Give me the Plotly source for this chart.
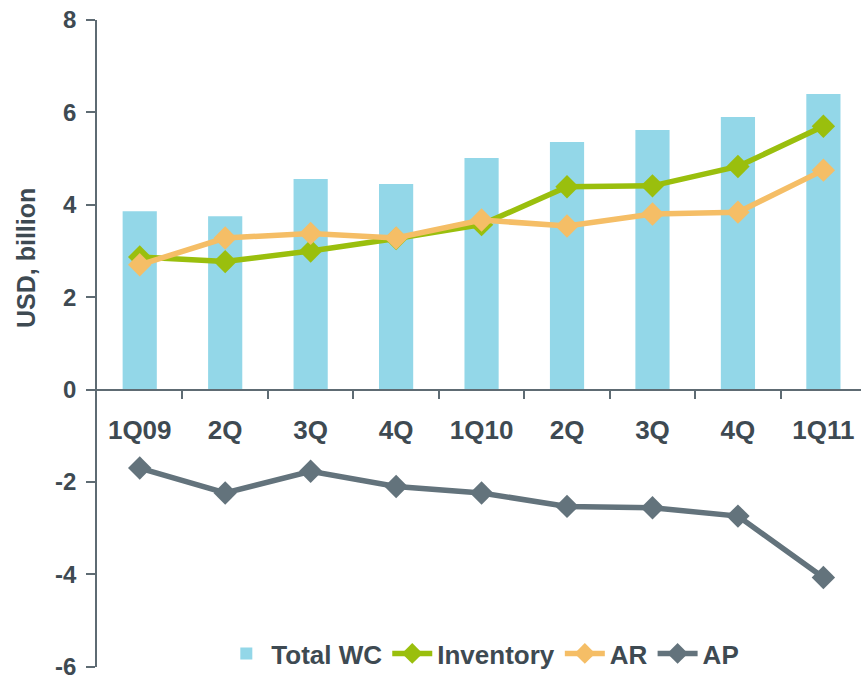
import plotly.graph_objects as go

# Quarterly working-capital components, USD billion
quarter_labels = ["1Q09", "2Q", "3Q", "4Q", "1Q10", "2Q", "3Q", "4Q", "1Q11"]
total_wc = [3.86, 3.75, 4.56, 4.45, 5.01, 5.36, 5.62, 5.90, 6.40]
inventory = [2.87, 2.77, 3.00, 3.27, 3.57, 4.39, 4.41, 4.83, 5.70]
ar = [2.70, 3.28, 3.38, 3.28, 3.67, 3.54, 3.80, 3.84, 4.75]
ap = [-1.70, -2.24, -1.77, -2.10, -2.24, -2.53, -2.56, -2.74, -4.07]

# y-axis ticks, written with a plain hyphen for the negatives
y_ticks = [-6, -4, -2, 0, 2, 4, 6, 8]
y_tick_labels = ["-6", "-4", "-2", "0", "2", "4", "6", "8"]
y_min, y_max = -6, 8

x = list(range(len(quarter_labels)))

TEXT = "#3E4A52"
AXIS = "#5E6B73"
FONT = "Liberation Sans, Arial, sans-serif"

W, H = 861, 677
M_L, M_R, M_T, M_B = 97, 0, 20, 0
paper_h = H - M_T - M_B
paper_w = W - M_L - M_R
# leave a 10 px strip under the y-axis for the legend to hang into
y_dom0 = 10.3 / paper_h
zero_pos = y_dom0 + (0 - y_min) / (y_max - y_min) * (1 - y_dom0)

fig = go.Figure()
fig.add_trace(go.Bar(x=x, y=total_wc, name="Total WC", marker_color="#93D7E8",
                     marker_line_width=0, width=0.4))
fig.add_trace(go.Scatter(x=x, y=inventory, name="Inventory", mode="lines+markers",
                         line=dict(color="#9ABF0D", width=5.5),
                         marker=dict(symbol="diamond", size=18, color="#9ABF0D")))
fig.add_trace(go.Scatter(x=x, y=ar, name="AR", mode="lines+markers",
                         line=dict(color="#F5BE66", width=5.5),
                         marker=dict(symbol="diamond", size=18, color="#F5BE66")))
fig.add_trace(go.Scatter(x=x, y=ap, name="AP", mode="lines+markers",
                         line=dict(color="#63737C", width=5.5),
                         marker=dict(symbol="diamond", size=18, color="#63737C")))

fig.update_layout(
    width=W, height=H,
    margin=dict(l=M_L, r=M_R, t=M_T, b=M_B),
    plot_bgcolor="white", paper_bgcolor="white",
    font=dict(family=FONT, color=TEXT, size=26, weight="bold"),
    showlegend=True,
    legend=dict(orientation="h", xref="paper", x=0.505, xanchor="center",
                yref="paper", y=0, yanchor="bottom",
                font=dict(size=26, color=TEXT, weight="bold"),
                itemwidth=40,
                bgcolor="rgba(0,0,0,0)", traceorder="normal"),
    xaxis=dict(
        range=[-0.5, 8.44], anchor="free", position=zero_pos, automargin=False,
        tickmode="array", tickvals=x, ticktext=quarter_labels,
        ticks="", showline=True, linecolor=AXIS, linewidth=1.5,
        showgrid=False, zeroline=False,
        tickfont=dict(size=26, color=TEXT, weight="bold"),
        ticklabelstandoff=18,
        minor=dict(tickmode="array", tickvals=[i + 0.5 for i in x[:-1]],
                   ticks="outside", ticklen=9, tickcolor=AXIS, tickwidth=1.5),
    ),
    yaxis=dict(
        domain=[y_dom0, 1], automargin=False,
        range=[y_min, y_max], tickmode="array", tickvals=y_ticks, ticktext=y_tick_labels,
        showgrid=False, zeroline=False,
        showline=True, linecolor=AXIS, linewidth=1.5,
        ticks="outside", ticklen=9, tickcolor=AXIS, tickwidth=1.5,
        tickfont=dict(size=24, color=TEXT, weight="bold"),
        ticklabelstandoff=5, ticklabeloverflow="allow",
    ),
    annotations=[dict(
        text="USD, billion", textangle=-90, showarrow=False,
        xref="paper", x=-M_L / paper_w, xanchor="left", xshift=10,
        yref="paper", y=(H - M_B - 258) / paper_h, yanchor="middle",
        font=dict(size=25, color=TEXT, weight="bold"),
    )],
)

fig.write_html("out.html")
